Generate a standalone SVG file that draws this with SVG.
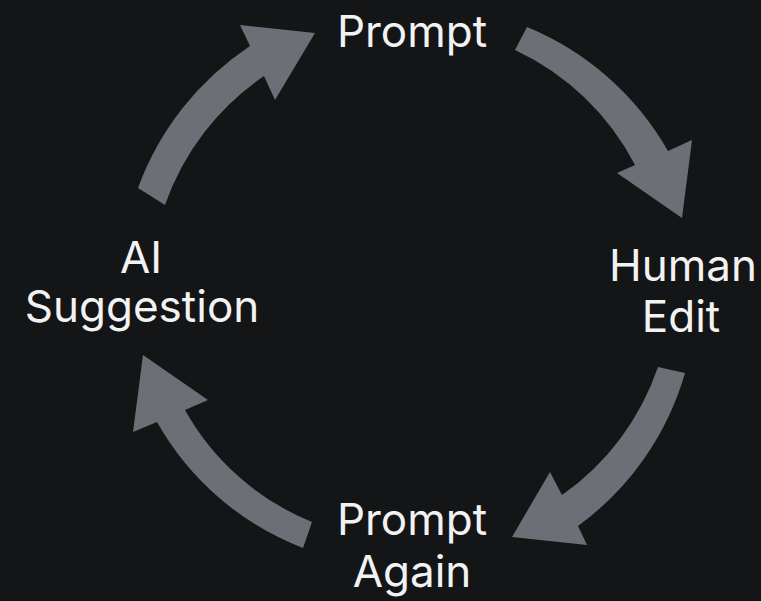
<svg xmlns="http://www.w3.org/2000/svg" width="761" height="601" viewBox="0 0 761 601">
  <style>
    .bg { fill: #141517; }
    .arrow { fill: #6c6f75; }
    .label { font-family: Inter, "Noto Sans", "Liberation Sans", sans-serif; font-size: 44px; fill: #f2f2f2; text-anchor: middle; }
  </style>
  <rect class="bg" x="0" y="0" width="761" height="601"/>
  <g id="connectors">
    <path id="arrow-ai-to-prompt" class="arrow" d="M 138,188 A 290 290 0 0 1 250,46 L 240,25 L 315,33 L 275,100 L 264,76 A 259 259 0 0 0 165,205 Z"/>
    <path id="arrow-prompt-to-human" class="arrow" d="M 527,27 A 288 288 0 0 1 668,151 L 692,140 L 682,218 L 617,173 L 635,165 A 258 258 0 0 0 515,50 Z"/>
    <path id="arrow-human-to-again" class="arrow" d="M 685,373 A 288 288 0 0 1 578,526 L 587,545 L 512,537 L 550,472 L 562,495 A 258 258 0 0 0 658,367 Z"/>
    <path id="arrow-again-to-ai" class="arrow" d="M 303,548 A 285 285 0 0 1 157,422 L 133,432 L 143,355 L 208,400 L 185,410 A 255 255 0 0 0 312,522 Z"/>
  </g>
  <g id="node-prompt">
    <text class="label" x="412" y="47">Prompt</text>
  </g>
  <g id="node-human-edit">
    <text class="label" x="683" y="281">Human</text>
    <text class="label" x="681" y="332">Edit</text>
  </g>
  <g id="node-prompt-again">
    <text class="label" x="412" y="535">Prompt</text>
    <text class="label" x="412" y="587">Again</text>
  </g>
  <g id="node-ai-suggestion">
    <text class="label" x="141" y="273">AI</text>
    <text class="label" x="142" y="322">Suggestion</text>
  </g>
</svg>
